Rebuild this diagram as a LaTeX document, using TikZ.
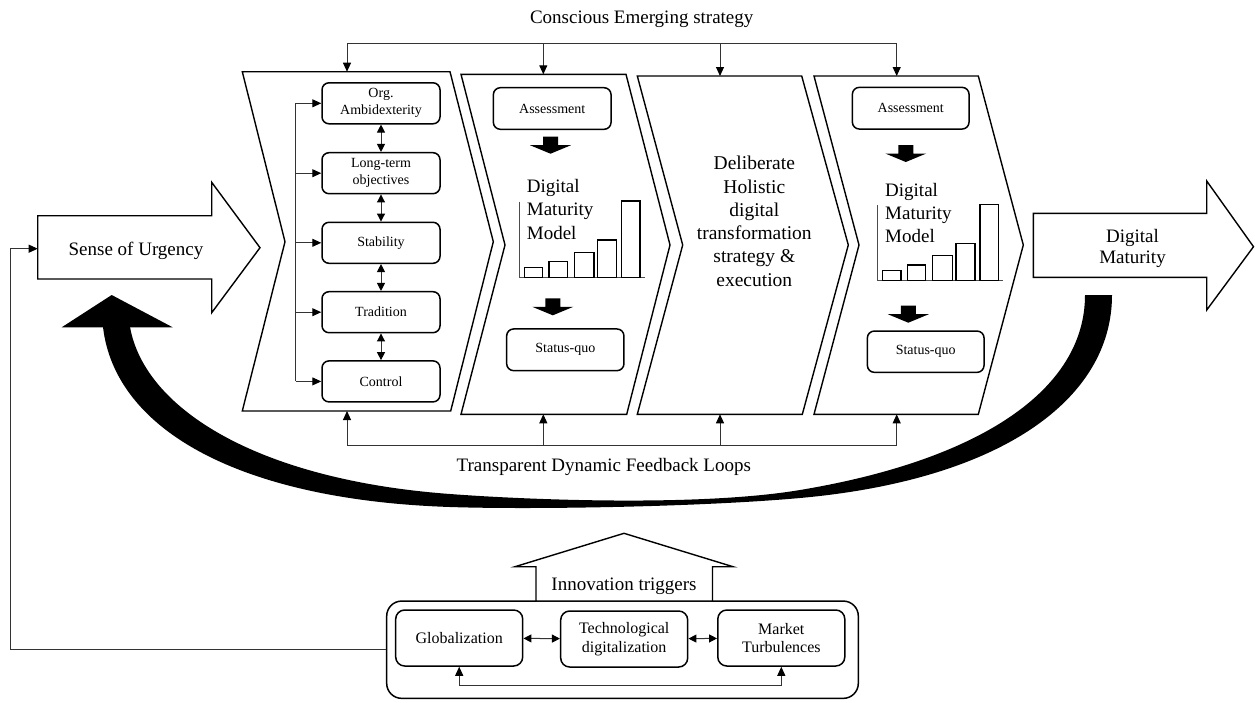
\documentclass[tikz,border=0pt]{standalone}
\usepackage{fontspec}
\setmainfont{Liberation Serif}
\usetikzlibrary{arrows.meta}
\newcommand\myBig{\fontsize{19}{23.3}\selectfont}
\newcommand\mySmall{\fontsize{14}{17}\selectfont}
\newcommand\myMid{\fontsize{16}{18.5}\selectfont}
\begin{document}
\begin{tikzpicture}[x=1pt,y=-1pt,
  chev/.style={draw, line width=1.4pt, line join=miter},
  conn/.style={draw=black!80, line width=1pt},
  tip/.style={-{Triangle[length=9pt,width=8pt,color=black]}},
  dtip/.style={{Triangle[length=8pt,width=8pt,color=black]}-{Triangle[length=8pt,width=8pt,color=black]}},
  rbox/.style={draw, line width=1.5pt, rounded corners=7pt, align=center, inner sep=0pt,
    minimum width=118pt, minimum height=41pt, font=\mySmall},
  ibox/.style={draw, line width=1.5pt, rounded corners=9pt, align=center, inner sep=0pt,
    minimum width=127pt, minimum height=56pt, font=\myMid},
  bigarrow/.style={draw, line width=1.4pt, fill=white},
  lbl/.style={inner sep=0pt, font=\myBig},
  blkarrow/.pic={\fill (-7.5,0) -- (7.5,0) -- (7.5,8.5) -- (20.5,8.5) -- (0,17) -- (-20.5,8.5) -- (-7.5,8.5) -- cycle;},
  dmmchart/.pic={
    \draw[line width=0.9pt, draw=black!70] (0,-75.6) -- (0,0) -- (125.7,0);
    \draw[line width=1.4pt] (5,0) rectangle (23.4,-10) (29.7,0) rectangle (48,-15.6)
      (55,0) rectangle (74.7,-25) (78.4,0) rectangle (97.4,-37.3) (102.4,0) rectangle (120.7,-76.3);}
]
\useasboundingbox (0,0) rectangle (1255,702);

% ---------- big feedback crescent ----------
\fill (1112,295) .. controls (1112,400) and (1000,480) .. (800,498)
  .. controls (700,507) and (530,509.7) .. (450,507)
  .. controls (240,500) and (115,430) .. (103,327) -- (130,327)
  .. controls (145,410) and (260,480) .. (450,494)
  .. controls (530,500) and (700,506.7) .. (800,490)
  .. controls (980,460) and (1085,390) .. (1085,295) -- cycle;
\fill (111.7,295) -- (172.7,327.3) -- (61.7,327.3) -- cycle;

% ---------- Sense of Urgency arrow ----------
\draw[bigarrow] (37.7,215.7) -- (211.7,215.7) -- (211.7,182.3) -- (260,247.7)
  -- (211.7,312.7) -- (211.7,279) -- (37.7,279) -- cycle;
\node[lbl, anchor=base] (sou) at (136,255) {Sense of Urgency};
\coordinate (souin) at (37.7,248.7);

% ---------- Digital Maturity arrow ----------
\draw[bigarrow] (1033.3,213.3) -- (1206.7,213.3) -- (1206.7,181) -- (1253.5,246.7)
  -- (1206.7,310) -- (1206.7,277.3) -- (1033.3,277.3) -- cycle;
\node[inner sep=0pt, align=center, anchor=north, font=\fontsize{19}{21.6}\selectfont]
  (dm) at (1132.5,228.7) {Digital\\Maturity};

% ---------- chevrons ----------
\draw[chev] (242.3,71.7) -- (450,71.7) -- (493.3,241.7) -- (450.7,411) -- (242.3,411) -- (285,241.7) -- cycle;
\draw[chev] (461,74.3) -- (626,74.3) -- (670,245) -- (626.7,414.3) -- (461,414.3) -- (505,245) -- cycle;
\draw[chev] (637.3,76) -- (801.7,76) -- (848.3,245) -- (802.3,414.3) -- (637.3,414.3) -- (682.7,245) -- cycle;
\draw[chev] (814,76) -- (978.3,76) -- (1023.3,245) -- (978.3,414.3) -- (814,414.3) -- (859,245) -- cycle;

\coordinate (c1t) at (347,71.7);  \coordinate (c1b) at (347,411);
\coordinate (c2t) at (543.3,74.3); \coordinate (c2b) at (543.3,414.3);
\coordinate (c3t) at (720,76);    \coordinate (c3b) at (720,414.3);
\coordinate (c4t) at (896.7,76);  \coordinate (c4b) at (896.7,414.3);
\coordinate (topbus) at (0,43.3);
\coordinate (botbus) at (0,445);

% ---------- top: conscious emerging strategy ----------
\node[lbl, anchor=base] (ces) at (641.7,23.3) {Conscious Emerging strategy};
\draw[conn] (c1t |- topbus) -- (c4t |- topbus);
\foreach \c in {c1t,c2t,c3t,c4t}{ \draw[conn,tip] (\c |- topbus) -- (\c); }

% ---------- bottom: feedback loops ----------
\draw[conn] (c1b |- botbus) -- (c4b |- botbus);
\foreach \c in {c1b,c2b,c3b,c4b}{ \draw[conn,tip] (\c |- botbus) -- (\c); }
\node[lbl, anchor=base] (tdfl) at (603.8,471.7) {Transparent Dynamic Feedback Loops};

% ---------- chevron 1 boxes ----------
\node[rbox] (org) at (381,103.3) {Org.\\Ambidexterity};
\node[rbox] (lto) at (381,173.2) {Long-term\\objectives};
\node[rbox] (sta) at (381,242.8) {Stability};
\node[rbox] (tra) at (381,312.2) {Tradition};
\node[rbox] (ctl) at (381,381.4) {Control};
\draw[conn,dtip] (org) -- (lto);
\draw[conn,dtip] (lto) -- (sta);
\draw[conn,dtip] (sta) -- (tra);
\draw[conn,dtip] (tra) -- (ctl);
\coordinate (bus) at (295.7,0);
\draw[conn] (org.west -| bus) -- (ctl.west -| bus);
\foreach \b in {org,lto,sta,tra,ctl}{ \draw[conn,tip] (\b.west -| bus) -- (\b.west); }

% ---------- chevron 2 ----------
\node[rbox, minimum width=117.7pt, minimum height=41.6pt] (as1) at (552.2,108.5) {Assessment};
\pic at (550.5,136.7) {blkarrow};
\pic at (519.3,277.3) {dmmchart};
\node[lbl, align=left, anchor=north west, font=\fontsize{19}{23.3}\selectfont] (dmm1) at (526.7,179.3) {Digital\\Maturity\\Model};
\pic at (552.8,298.3) {blkarrow};
\node[rbox, minimum width=117.3pt, minimum height=41.7pt] (sq1) at (565.3,349.8) {Status-quo};

% ---------- chevron 3 ----------
\node[inner sep=0pt, align=center, anchor=north, font=\fontsize{19.5}{23.3}\selectfont] (dht) at (754.3,156)
  {Deliberate\\Holistic\\digital\\transformation\\strategy \&\\execution};

% ---------- chevron 4 ----------
\node[rbox, minimum width=116.7pt, minimum height=41.7pt] (as2) at (910.7,108.2) {Assessment};
\pic at (905.8,145) {blkarrow};
\pic at (877.7,280.7) {dmmchart};
\node[lbl, align=left, anchor=north west, font=\fontsize{19}{23.3}\selectfont] (dmm2) at (885,182.7) {Digital\\Maturity\\Model};
\pic at (908.3,305.7) {blkarrow};
\node[rbox, minimum width=116.7pt, minimum height=41.3pt] (sq2) at (925.7,351.7) {Status-quo};

% ---------- innovation triggers ----------
\node[draw, line width=1.5pt, rounded corners=15pt, minimum width=471.6pt, minimum height=97.3pt, inner sep=0pt]
  (innov) at (622.5,649.7) {};
\draw[bigarrow] (536,601) -- (536,566.7) -- (515,566.7) -- (624,533.3) -- (733,566.7) -- (712.5,566.7) -- (712.5,601) -- cycle;
\node[lbl, anchor=base] (itrig) at (624,590) {Innovation triggers};
\node[ibox] (glob) at (459.2,638) {Globalization};
\node[ibox] (tech) at (624.2,639) {Technological\\digitalization};
\node[ibox] (mkt) at (781.3,638) {Market\\Turbulences};
\draw[conn,dtip] (glob) -- (tech);
\draw[conn,dtip] (tech) -- (mkt);
\coordinate (ibus) at (0,685.7);
\draw[conn] (glob.south |- ibus) -- (mkt.south |- ibus);
\draw[conn,tip] (glob.south |- ibus) -- (glob.south);
\draw[conn,tip] (mkt.south |- ibus) -- (mkt.south);

% ---------- external feedback into sense of urgency ----------
\coordinate (lx) at (10.5,0);
\draw[conn,tip] (innov.west) -- (innov.west -| lx) -- (lx |- souin) -- (souin);
\end{tikzpicture}
\end{document}
